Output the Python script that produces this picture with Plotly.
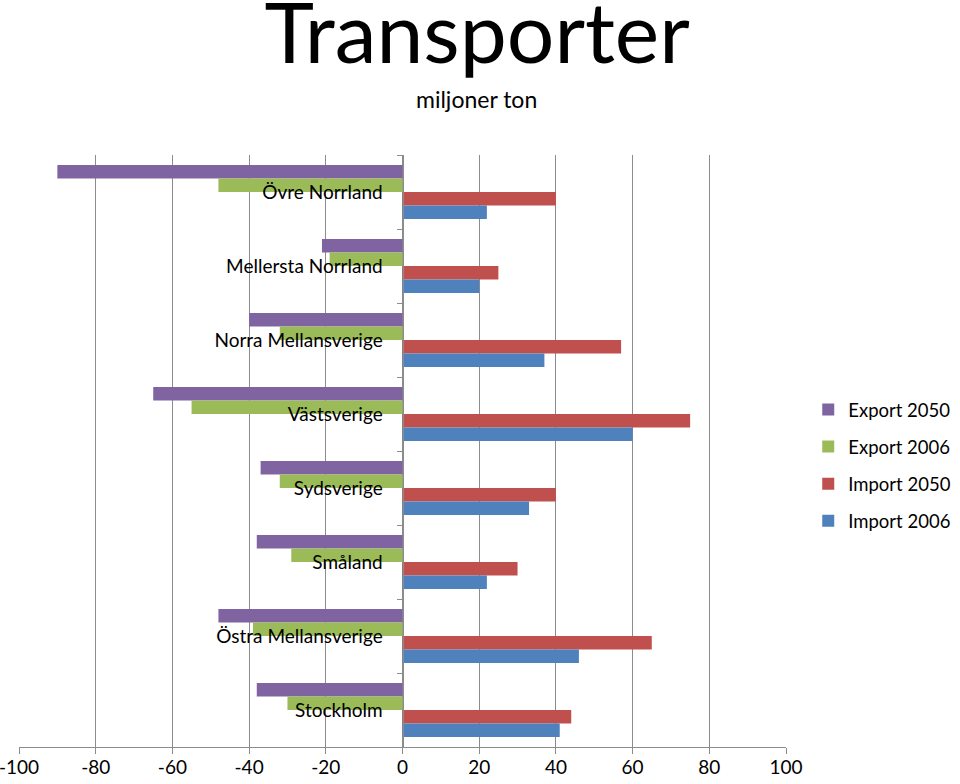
import plotly.graph_objects as go

categories = ["Övre Norrland", "Mellersta Norrland", "Norra Mellansverige", "Västsverige",
              "Sydsverige", "Småland", "Östra Mellansverige", "Stockholm"]
export_2050 = [-90, -21, -40, -65, -37, -38, -48, -38]
export_2006 = [-48, -19, -32, -55, -32, -29, -39, -30]
import_2050 = [40, 25, 57, 75, 40, 30, 65, 44]
import_2006 = [22, 20, 37, 60, 33, 22, 46, 41]
x_ticks = [-100, -80, -60, -40, -20, 0, 20, 40, 60, 80, 100]

series = [
    ("Export 2050", export_2050, "#8064A2"),
    ("Export 2006", export_2006, "#9BBB59"),
    ("Import 2050", import_2050, "#C0504D"),
    ("Import 2006", import_2006, "#4F81BD"),
]

FONT = "Lato"
fig = go.Figure()
for i, (name, vals, color) in enumerate(series):
    fig.add_trace(go.Bar(
        y=categories, x=vals, name=name, orientation="h",
        marker=dict(color=color, line=dict(width=0)),
        legendgroup=f"g{i}",
    ))

fig.update_layout(
    width=960, height=784,
    margin=dict(l=19, r=174, t=155, b=37, autoexpand=False),
    paper_bgcolor="white", plot_bgcolor="white",
    barmode="group", bargap=0.27, bargroupgap=0,
    font=dict(family=FONT, size=18, color="black"),
    title=dict(text="Transporter", x=0.497, xanchor="center", y=0.957, yanchor="middle",
               font=dict(family=FONT, size=84, color="black")),
    legend=dict(x=1.029, xanchor="left", y=0.4755, yanchor="middle",
                font=dict(family=FONT, size=18.5, color="black"),
                tracegroupgap=10, itemwidth=30, bgcolor="rgba(0,0,0,0)"),
    annotations=[dict(text="miljoner ton", xref="paper", yref="paper", x=0.597, y=1.0946,
                      xanchor="center", yanchor="middle", showarrow=False,
                      font=dict(family=FONT, size=23, color="black"))],
    xaxis=dict(range=[-100, 100], tickvals=x_ticks, ticktext=[str(t) for t in x_ticks],
               showgrid=True, gridcolor="#8C8C8C", gridwidth=1, zeroline=False,
               showline=True, linecolor="#8C8C8C", linewidth=1,
               ticks="outside", ticklen=6, tickcolor="#8C8C8C",
               ticklabeloverflow="allow", automargin=False, ticklabelstandoff=-3,
               tickfont=dict(family=FONT, size=19, color="black")),
    yaxis=dict(type="category", autorange="reversed", anchor="free", position=0.5,
               showgrid=False, showline=True, linecolor="#8C8C8C", linewidth=1,
               ticks="outside", ticklen=6, tickcolor="#8C8C8C", tickson="boundaries",
               ticklabelstandoff=16, automargin=False,
               tickfont=dict(family=FONT, size=19, color="black")),
)

# remove the browser's default 8px body margin so the figure fills the window
fig.write_html("out.html", config={"displayModeBar": False},
               post_script="document.body.style.margin='0';")
